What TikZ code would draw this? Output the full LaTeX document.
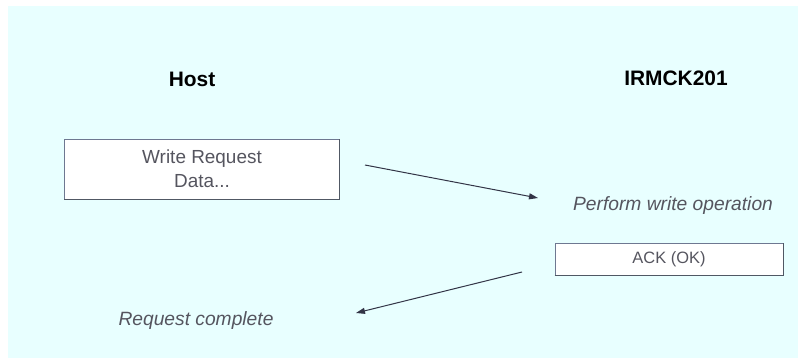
\documentclass[tikz,border=0pt]{standalone}
\usepackage{fontspec}
\setmainfont{Liberation Sans}
\usetikzlibrary{arrows.meta}
\definecolor{bgc}{RGB}{232,255,255}
\definecolor{boxline}{RGB}{110,120,145}
\definecolor{boxshadow}{RGB}{80,88,100}
\definecolor{txtgray}{RGB}{85,85,95}
\definecolor{arrowc}{RGB}{50,52,70}
\tikzset{
  lbl/.style={inner sep=0pt, font=\fontsize{21}{23}\selectfont\bfseries, text=black},
  ital/.style={inner sep=0pt, font=\fontsize{19.3}{22}\selectfont\itshape, text=txtgray},
  msgbox/.style={draw=boxline, fill=white, line width=1bp, inner sep=0pt, text=txtgray},
  shad/.style={draw=boxshadow, line width=1.2bp},
  conn/.style={draw=arrowc, line width=1bp, -{Triangle[length=9bp,width=6bp]}}
}
\begin{document}
\begin{tikzpicture}[x=1bp,y=-1bp]
\useasboundingbox (0,0) rectangle (798,358);
\fill[bgc] (8,6) rectangle (798,358);
% headers
\node[lbl] (host) at (192,79) {Host};
\node[lbl] (irm) at (676,78) {IRMCK201};
% write request box
\node[msgbox, minimum width=274bp, minimum height=60bp] (wr) at (202,169) {};
\draw[shad] (wr.south west) -- (wr.south east) -- (wr.north east);
\node[text=txtgray, align=center, inner sep=0pt, font=\fontsize{19}{24}\selectfont] (wrt) at (wr.center) {Write Request\\Data...};
% perform
\node[ital] (perf) at (673,206) {Perform write operation};
% ack box
\node[msgbox, minimum width=228bp, minimum height=32bp] (ack) at (669,259) {};
\draw[shad] (ack.south west) -- (ack.south east) -- (ack.north east);
\node[text=txtgray, inner sep=0pt, font=\fontsize{16.5}{18}\selectfont] (ackt) at (ack.center) {ACK (OK)};
% request complete
\node[ital] (rc) at (196,321) {Request complete};
% connectors
\coordinate (a1s) at (365,165);
\coordinate (a1e) at (538,198);
\coordinate (a2s) at (522,272);
\coordinate (a2e) at (356,313);
\draw[conn] (a1s) -- (a1e);
\draw[conn] (a2s) -- (a2e);
\end{tikzpicture}
\end{document}
